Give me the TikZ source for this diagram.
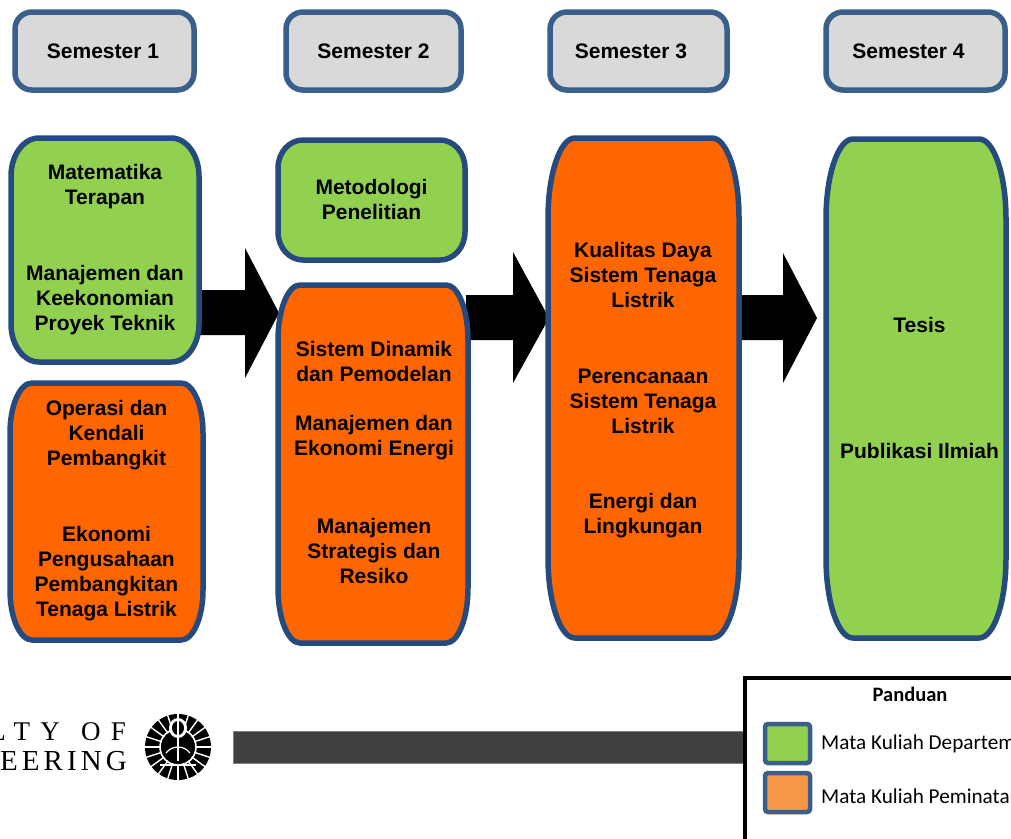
\documentclass[tikz,border=0pt]{standalone}
\usepackage{fontspec}
\usetikzlibrary{calc}
\setmainfont{Liberation Sans}
\newfontfamily\legendfont{Carlito}
\newfontfamily\logofontA[LetterSpace=38]{Liberation Serif}
\newfontfamily\logofontB[LetterSpace=14]{Liberation Serif}
\definecolor{semblue}{HTML}{3A5F8B}
\definecolor{semgray}{HTML}{D9D9D9}
\definecolor{boxblue}{HTML}{254A7E}
\definecolor{boxgreen}{HTML}{92D050}
\definecolor{boxorange}{HTML}{FF6600}
\definecolor{legorange}{HTML}{F79646}
\definecolor{bargray}{HTML}{404040}
\newcommand\roundbox[7]{%
 \path[#1] ({#2+#6},#3) -- ({#4-#6},#3)
   .. controls ({#4-0.448*#6},#3) and (#4,{#3+0.448*#7}) .. (#4,{#3+#7})
   -- (#4,{#5-#7})
   .. controls (#4,{#5-0.448*#7}) and ({#4-0.448*#6},#5) .. ({#4-#6},#5)
   -- ({#2+#6},#5)
   .. controls ({#2+0.448*#6},#5) and (#2,{#5-0.448*#7}) .. (#2,{#5-#7})
   -- (#2,{#3+#7})
   .. controls (#2,{#3+0.448*#7}) and ({#2+0.448*#6},#3) .. ({#2+#6},#3) -- cycle;}
\tikzset{
 sembox/.style={draw=semblue, line width=5.5pt, fill=semgray},
 grbox/.style={draw=boxblue, line width=5.5pt, fill=boxgreen},
 orbox/.style={draw=boxblue, line width=5.5pt, fill=boxorange},
 lbl/.style={font=\fontsize{21}{25}\selectfont\bfseries, align=center, inner sep=0pt},
 blockarrow/.style={fill=black},
 legsq/.style={draw=semblue, line width=4.5pt, rounded corners=3pt},
 legtext/.style={font=\legendfont\fontsize{21.2}{24}\selectfont, anchor=west, inner sep=0pt},
 logotext/.style={anchor=east, inner sep=0pt},
}
\begin{document}
\begin{tikzpicture}[x=1pt,y=-1pt]
\useasboundingbox (0,0) rectangle (1011,838);
\fill[white] (0,0) rectangle (1011,838);

% block arrows
\fill[blockarrow] (200,290) -- (245,290) -- (245,248) -- (279,313) -- (245,378) -- (245,335) -- (200,335) -- cycle;
\fill[blockarrow] (466,295) -- (513,295) -- (513,252) -- (549,318) -- (513,383) -- (513,340) -- (466,340) -- cycle;
\fill[blockarrow] (736,295) -- (783,295) -- (783,253) -- (817,318) -- (783,383) -- (783,340) -- (736,340) -- cycle;

% semester boxes
\roundbox{sembox}{15}{12}{194}{90}{17}{17}
\roundbox{sembox}{286}{12}{461}{90}{17}{17}
\roundbox{sembox}{550}{12}{727}{90}{17}{17}
\roundbox{sembox}{826}{12}{1005}{90}{17}{17}
\node[lbl] (sem1) at (103,51) {Semester 1};
\node[lbl] (sem2) at (373.5,51) {Semester 2};
\node[lbl] (sem3) at (631,51) {Semester 3};
\node[lbl] (sem4) at (908.5,51) {Semester 4};

% semester 1
\roundbox{grbox}{11}{138}{199}{362}{28}{38}
\roundbox{orbox}{10}{383}{203}{640}{22}{50}
\node[lbl] (g1a) at (105,186.5) {Matematika\\Terapan};
\node[lbl] (g1b) at (105,300) {Manajemen dan\\Keekonomian\\Proyek Teknik};
\node[lbl] (o1a) at (106.5,435) {Operasi dan\\Kendali\\Pembangkit};
\node[lbl] (o1b) at (106.5,573.5) {Ekonomi\\Pengusahaan\\Pembangkitan\\Tenaga Listrik};

% semester 2
\roundbox{grbox}{278}{140}{465}{260}{25}{28}
\roundbox{orbox}{278}{285}{468}{643}{22}{55}
\node[lbl] (m2) at (371.5,199.5) {Metodologi\\Penelitian};
\node[lbl] (o2a) at (374,361.5) {Sistem Dinamik\\dan Pemodelan};
\node[lbl] (o2b) at (374,437.5) {Manajemen dan\\Ekonomi Energi};
\node[lbl] (o2c) at (374,551) {Manajemen\\Strategis dan\\Resiko};

% semester 3
\roundbox{orbox}{548}{138}{739}{638}{27}{80}
\node[lbl] (o3a) at (643,275) {Kualitas Daya\\Sistem Tenaga\\Listrik};
\node[lbl] (o3b) at (643,401) {Perencanaan\\Sistem Tenaga\\Listrik};
\node[lbl] (o3c) at (643,515.5) {Energi dan\\Lingkungan};

% semester 4
\roundbox{grbox}{826}{139}{1006}{638}{27}{80}
\node[lbl] (t1) at (919.5,325) {Tesis};
\node[lbl] (t2) at (919.5,451) {Publikasi Ilmiah};

% footer bar
\fill[bargray, draw=gray, line width=0.8pt] (233,731) rectangle (745,763);

% legend
\draw[black, line width=3.5pt, fill=white] (745,678) rectangle (1030,850);
\node[font=\legendfont\bfseries\fontsize{20.5}{22}\selectfont, inner sep=0pt] (leg) at (910,694) {Panduan};
\draw[legsq, fill=boxgreen] (765,724) rectangle (810,763);
\draw[legsq, fill=legorange] (765,773) rectangle (810,812);
\node[legtext] (lg1) at (821,744) {Mata Kuliah Departemen};
\node[legtext] (lg2) at (821,796) {Mata Kuliah Peminatan};

% logo
\node[logotext, font=\logofontA\fontsize{27}{29}\selectfont] (fac) at (126,732) {FACULTY \hspace{4pt}OF};
\node[logotext, font=\logofontB\fontsize{29}{31}\selectfont] (eng) at (127,761) {ENGINEERING};
\begin{scope}
\fill[black] (178,747) circle (33);
\foreach \a in {0,18,...,342} \draw[white, line width=1.4pt] ($(178,747)+(\a:17)$) -- ($(178,747)+(\a:34)$);
\draw[white, line width=1.6pt] (178,747) circle (18);
\fill[white] (178,728) ellipse (9 and 10);
\fill[black] (178,728) ellipse (6 and 7);
\draw[white, line width=1.5pt] (178,718) -- (178,761);
\draw[white, line width=1.5pt] (160,765) -- (196,765);
\draw[white, line width=1.2pt] (166,753) .. controls (172,745) and (184,745) .. (190,753);
\end{scope}
\end{tikzpicture}
\end{document}
